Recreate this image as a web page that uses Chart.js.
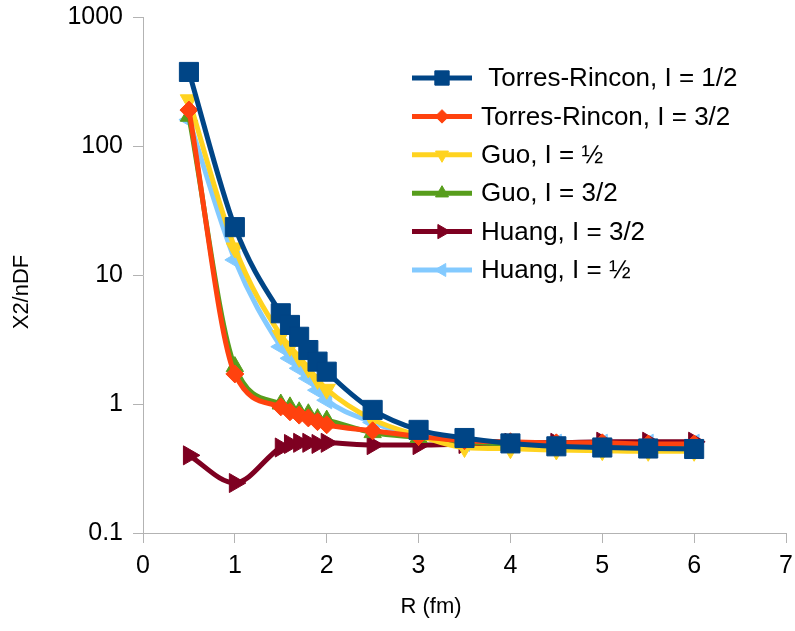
<!DOCTYPE html>
<html>
<head>
<meta charset="utf-8">
<title>X2/nDF vs R</title>
<script src="https://cdn.jsdelivr.net/npm/chart.js@4/dist/chart.umd.min.js"></script>
<style>
  html, body { margin: 0; padding: 0; background: #fff; }
  #wrap { width: 795px; height: 631px; }
</style>
</head>
<body>
<div id="wrap"><canvas id="fitChart" width="795" height="631"></canvas></div>
<script>
// radius values (fm) shared by every series
const rValues = [0.5, 1, 1.5, 1.6, 1.7, 1.8, 1.9, 2, 2.5, 3, 3.5, 4, 4.5, 5, 5.5, 6];

// X2/nDF per series
const torresHalf      = [375, 23.5, 5.05, 4.1, 3.32, 2.62, 2.13, 1.78, 0.90, 0.63, 0.545, 0.495, 0.47, 0.46, 0.452, 0.448];
const torresThreeHalf = [190, 1.71, 0.95, 0.87, 0.82, 0.78, 0.73, 0.69, 0.62, 0.56, 0.52, 0.51, 0.50, 0.50, 0.49, 0.49];
const guoHalf         = [228, 16.2, 3.4, 2.8, 2.3, 1.9, 1.55, 1.3, 0.76, 0.57, 0.46, 0.45, 0.44, 0.435, 0.43, 0.43];
const guoThreeHalf    = [170, 1.95, 1.0, 0.95, 0.87, 0.84, 0.77, 0.75, 0.60, 0.55, 0.51, 0.49, 0.48, 0.48, 0.47, 0.47];
const huangThreeHalf  = [0.40, 0.244, 0.46, 0.49, 0.50, 0.50, 0.49, 0.50, 0.48, 0.48, 0.49, 0.50, 0.50, 0.51, 0.51, 0.51];
const huangHalf       = [160, 13.1, 2.78, 2.26, 1.89, 1.58, 1.28, 1.07, 0.72, 0.56, 0.50, 0.50, 0.50, 0.50, 0.50, 0.50];

const seriesLabels = [' Torres-Rincon, I = 1/2', 'Torres-Rincon, I = 3/2', 'Guo, I = ½', 'Guo, I = 3/2', 'Huang, I = 3/2', 'Huang, I = ½'];

const xTicks = [0, 1, 2, 3, 4, 5, 6, 7];
const yTicks = [0.1, 1, 10, 100, 1000];

const axisGrey = '#b3b3b3';
const fontFamily = '"Liberation Sans", Arial, sans-serif';

function points(ys) {
  return rValues.map((r, i) => ({ x: r, y: ys[i] }));
}

function series(label, ys, color, style, radius, rotation) {
  return {
    label: label,
    data: points(ys),
    showLine: true,
    borderColor: color,
    backgroundColor: color,
    borderWidth: 5,
    cubicInterpolationMode: 'monotone',
    pointStyle: style,
    pointRadius: radius,
    pointHoverRadius: radius,
    pointRotation: rotation,
    pointBorderWidth: 1,
    pointBorderColor: color,
    pointBackgroundColor: color
  };
}

const datasets = [
  series(seriesLabels[0], torresHalf, '#004586', 'rect', 13.5, 0),
  series(seriesLabels[1], torresThreeHalf, '#ff420e', 'rectRot', 9, 0),
  series(seriesLabels[2], guoHalf, '#ffd320', 'triangle', 10, 180),
  series(seriesLabels[3], guoThreeHalf, '#579d1c', 'triangle', 10, 0),
  series(seriesLabels[4], huangThreeHalf, '#7e0021', 'triangle', 11, 90),
  series(seriesLabels[5], huangHalf, '#83caff', 'triangle', 10, 270)
];

// legend drawn inside the plot, top right
const insideLegend = {
  id: 'insideLegend',
  afterDraw(chart) {
    const ctx = chart.ctx;
    const area = chart.chartArea;
    const x0 = area.left + 269;
    const y0 = area.top + 61;
    ctx.save();
    chart.data.datasets.forEach((ds, i) => {
      const y = y0 + i * 38.4;
      ctx.strokeStyle = ds.borderColor;
      ctx.lineWidth = 5;
      ctx.beginPath();
      ctx.moveTo(x0, y);
      ctx.lineTo(x0 + 60, y);
      ctx.stroke();
      ctx.fillStyle = ds.pointBackgroundColor;
      ctx.strokeStyle = ds.pointBorderColor;
      ctx.lineWidth = 1;
      Chart.helpers.drawPoint(ctx, {
        pointStyle: ds.pointStyle,
        rotation: ds.pointRotation,
        radius: ds.pointRadius * 0.75,
        borderWidth: 1
      }, x0 + 30, y);
      ctx.fillStyle = '#000';
      ctx.font = '26px ' + fontFamily;
      ctx.textAlign = 'left';
      ctx.textBaseline = 'middle';
      ctx.fillText(ds.label, x0 + 69, y + 1);
    });
    ctx.restore();
  }
};

// axis titles, centred on the whole diagram rather than the plot area
const axisTitles = {
  id: 'axisTitles',
  afterDraw(chart) {
    const ctx = chart.ctx;
    ctx.save();
    ctx.fillStyle = '#000';
    ctx.font = '22px ' + fontFamily;
    ctx.textAlign = 'center';
    ctx.textBaseline = 'middle';
    ctx.fillText('R (fm)', 431, 607);
    ctx.translate(22, 292);
    ctx.rotate(-Math.PI / 2);
    ctx.fillText('X2/nDF', 0, 0);
    ctx.restore();
  }
};

Chart.defaults.font.family = fontFamily;
Chart.defaults.color = '#000';

new Chart(document.getElementById('fitChart').getContext('2d'), {
  type: 'scatter',
  data: { datasets: datasets },
  options: {
    responsive: false,
    animation: false,
    layout: { autoPadding: false, padding: { top: 17, right: 9, left: 0, bottom: 0 } },
    plugins: {
      legend: { display: false },
      tooltip: { enabled: false }
    },
    scales: {
      x: {
        type: 'linear',
        min: 0,
        max: 7,
        afterBuildTicks: (axis) => { axis.ticks = xTicks.map(v => ({ value: v })); },
        afterFit: (axis) => {
          axis.height = 98;
          axis.paddingLeft = 0;
          axis.paddingRight = 0;
        },
        ticks: { font: { size: 25 }, padding: 8, color: '#000' },
        grid: { display: true, drawOnChartArea: false, drawTicks: true, tickLength: 10, color: axisGrey },
        border: { color: axisGrey, width: 1 }
      },
      y: {
        type: 'logarithmic',
        min: 0.1,
        max: 1000,
        afterBuildTicks: (axis) => { axis.ticks = yTicks.map(v => ({ value: v })); },
        afterFit: (axis) => {
          axis.width = 143;
          axis.paddingTop = 0;
          axis.paddingBottom = 0;
        },
        ticks: {
          font: { size: 25 },
          padding: 10,
          color: '#000',
          callback: (v) => String(v)
        },
        grid: { display: true, drawOnChartArea: false, drawTicks: true, tickLength: 10, color: axisGrey },
        border: { color: axisGrey, width: 1 }
      }
    }
  },
  plugins: [insideLegend, axisTitles]
});
</script>
</body>
</html>
